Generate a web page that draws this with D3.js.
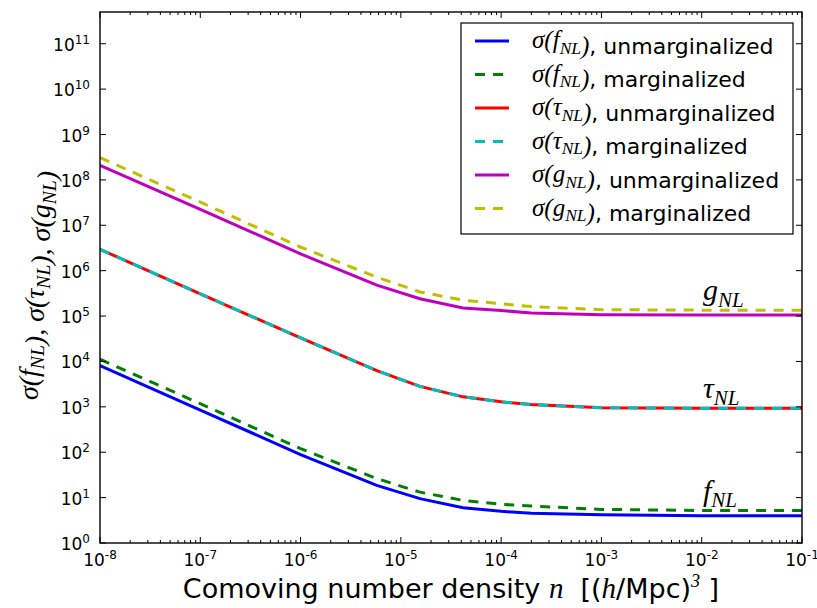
<!DOCTYPE html>
<html>
<head>
<meta charset="utf-8">
<script src="https://cdn.jsdelivr.net/npm/d3@7"></script>
<style>
  body { margin: 0; background: #fff; }
  svg { display: block; }
  text { font-family: "DejaVu Sans", sans-serif; fill: #000; }
  .math { font-family: "Liberation Serif", "DejaVu Serif", serif; font-style: italic; }
</style>
</head>
<body>
<div id="chart"></div>
<script>
// comoving number density n [(h/Mpc)^3]
const density = [1e-8, 1e-7, 1e-6, 5.75e-6, 1.55e-5, 4.17e-5, 1e-4, 2e-4, 1e-3, 1e-2, 1e-1];

const fnlUnmarg = [8100, 850, 89, 18.6, 9.5, 6.0, 5.0, 4.5, 4.2, 4.0, 4.0];
const fnlMarg   = [11200, 1170, 120, 26.3, 13.2, 8.7, 7.1, 6.5, 5.5, 5.2, 5.2];
const tnlUnmarg = [2.95e6, 3.1e5, 3.3e4, 6300, 2820, 1660, 1290, 1120, 955, 933, 930];
const tnlMarg   = [2.95e6, 3.1e5, 3.3e4, 6300, 2820, 1660, 1290, 1120, 955, 933, 930];
const gnlUnmarg = [2.09e8, 2.24e7, 2.34e6, 4.8e5, 2.4e5, 1.51e5, 1.32e5, 1.17e5, 1.07e5, 1.05e5, 1.05e5];
const gnlMarg   = [3.09e8, 3.24e7, 3.31e6, 7.2e5, 3.4e5, 2.24e5, 1.86e5, 1.62e5, 1.38e5, 1.35e5, 1.35e5];

const xTicks = [-8, -7, -6, -5, -4, -3, -2, -1];
const yTicks = [0, 1, 2, 3, 4, 5, 6, 7, 8, 9, 10, 11];

const series = [
  {param: 'f', label: 'unmarginalized', values: fnlUnmarg, color: '#0000ff', dash: null},
  {param: 'f', label: 'marginalized', values: fnlMarg, color: '#008000', dash: '10,8'},
  {param: 'τ', label: 'unmarginalized', values: tnlUnmarg, color: '#ff0000', dash: null},
  {param: 'τ', label: 'marginalized', values: tnlMarg, color: '#00bfbf', dash: '10,8'},
  {param: 'g', label: 'unmarginalized', values: gnlUnmarg, color: '#bf00bf', dash: null},
  {param: 'g', label: 'marginalized', values: gnlMarg, color: '#bfbf00', dash: '10,8'}
];

const width = 817;
const height = 608;
const margin = {top: 12, right: 15, bottom: 65, left: 100};
const iw = width - margin.left - margin.right;
const ih = height - margin.top - margin.bottom;

const svg = d3.select('#chart')
  .append('svg')
  .attr('width', width)
  .attr('height', height);

const x = d3.scaleLog().domain([1e-8, 1e-1]).range([0, iw]);
const y = d3.scaleLog().domain([1, 5e11]).range([ih, 0]);

const g = svg.append('g')
  .attr('transform', `translate(${margin.left},${margin.top})`);

g.append('defs').append('clipPath').attr('id', 'clip')
  .append('rect').attr('width', iw).attr('height', ih);

// math helper: base letter with italic NL subscript
function mathParam(sel, p, size) {
  sel.append('tspan').attr('class', 'math').attr('font-size', size).text(p);
  sel.append('tspan').attr('class', 'math').attr('font-size', size * 0.7)
    .attr('dy', size * 0.22).text('NL');
  sel.append('tspan').attr('font-size', size).attr('dy', -size * 0.22).text('');
}

function sigmaOf(sel, p, size) {
  sel.append('tspan').attr('class', 'math').attr('font-size', size).text('σ');
  sel.append('tspan').attr('class', 'math').attr('font-style', 'normal').attr('font-size', size).text('(');
  mathParam(sel, p, size);
  sel.append('tspan').attr('class', 'math').attr('font-style', 'normal').attr('font-size', size).text(')');
}

// lines
const line = d3.line()
  .x((d, i) => x(density[i]))
  .y(d => y(d));

g.append('g').attr('clip-path', 'url(#clip)')
  .selectAll('path')
  .data(series)
  .join('path')
    .attr('fill', 'none')
    .attr('stroke', d => d.color)
    .attr('stroke-width', 3)
    .attr('stroke-dasharray', d => d.dash)
    .attr('d', d => line(d.values));

// ticks (inward, all four sides)
const majorX = xTicks.map(e => Math.pow(10, e));
const minorX = [];
xTicks.slice(0, -1).forEach(e => {
  for (let k = 2; k <= 9; k++) minorX.push(k * Math.pow(10, e));
});

const ticks = g.append('g').attr('stroke', '#000').attr('stroke-width', 1);
[0, ih].forEach(y0 => {
  const dir = y0 === 0 ? 1 : -1;
  ticks.selectAll(null).data(majorX).join('line')
    .attr('x1', d => x(d)).attr('x2', d => x(d))
    .attr('y1', y0).attr('y2', y0 + dir * 6);
  ticks.selectAll(null).data(minorX).join('line')
    .attr('x1', d => x(d)).attr('x2', d => x(d))
    .attr('y1', y0).attr('y2', y0 + dir * 3);
});
ticks.selectAll(null).data(yTicks).join('line')
  .attr('x1', 0).attr('x2', 6)
  .attr('y1', d => y(Math.pow(10, d))).attr('y2', d => y(Math.pow(10, d)));
ticks.selectAll(null).data(yTicks).join('line')
  .attr('x1', iw).attr('x2', iw - 6)
  .attr('y1', d => y(Math.pow(10, d))).attr('y2', d => y(Math.pow(10, d)));

// frame
g.append('rect')
  .attr('width', iw).attr('height', ih)
  .attr('fill', 'none').attr('stroke', '#000').attr('stroke-width', 1.4);

// tick labels
g.append('g').selectAll('text').data(xTicks).join('text')
  .attr('x', d => x(Math.pow(10, d)))
  .attr('y', ih + 23)
  .attr('text-anchor', 'middle')
  .attr('font-size', 17)
  .each(function(d) {
    const t = d3.select(this);
    t.append('tspan').text('10');
    t.append('tspan').attr('font-size', 12).attr('dy', -7).text('-' + Math.abs(d));
  });

g.append('g').selectAll('text').data(yTicks).join('text')
  .attr('x', -10)
  .attr('y', d => y(Math.pow(10, d)) + 7)
  .attr('text-anchor', 'end')
  .attr('font-size', 17)
  .each(function(d) {
    const t = d3.select(this);
    t.append('tspan').text('10');
    t.append('tspan').attr('font-size', 12).attr('dy', -7).text(d);
  });

// x axis label
const xl = svg.append('text')
  .attr('x', 451).attr('y', 598)
  .attr('text-anchor', 'middle')
  .attr('font-size', 27);
xl.append('tspan').text('Comoving number density ');
xl.append('tspan').attr('class', 'math').attr('font-size', 29).text('n');
xl.append('tspan').text('\u00a0\u00a0[(');
xl.append('tspan').attr('class', 'math').attr('font-size', 29).text('h');
xl.append('tspan').text('/Mpc)');
xl.append('tspan').attr('class', 'math').attr('font-style', 'normal').attr('font-size', 18).attr('dy', -11).text('3');
xl.append('tspan').attr('dy', 11).text('\u00a0]');

// y axis label
const yl = svg.append('text')
  .attr('transform', `translate(38,${margin.top + ih / 2 + 8}) rotate(-90)`)
  .attr('text-anchor', 'middle');
sigmaOf(yl, 'f', 28);
yl.append('tspan').attr('class', 'math').attr('font-style', 'normal').attr('font-size', 28).text(', ');
sigmaOf(yl, 'τ', 28);
yl.append('tspan').attr('class', 'math').attr('font-style', 'normal').attr('font-size', 28).text(', ');
sigmaOf(yl, 'g', 28);

// curve annotations
const notes = [
  {p: 'g', v: gnlMarg[gnlMarg.length - 1]},
  {p: 'τ', v: tnlMarg[tnlMarg.length - 1]},
  {p: 'f', v: fnlMarg[fnlMarg.length - 1]}
];
g.selectAll('.note').data(notes).join('text')
  .attr('class', 'note')
  .attr('x', 603)
  .attr('y', d => y(d.v) - 10)
  .each(function(d) { mathParam(d3.select(this), d.p, 30); });

// legend
const legend = g.append('g').attr('transform', `translate(${461 - margin.left},${23 - margin.top})`);
legend.append('rect')
  .attr('width', 332).attr('height', 211)
  .attr('fill', '#fff').attr('stroke', '#000').attr('stroke-width', 1.2);

const rows = legend.selectAll('.row').data(series).join('g')
  .attr('class', 'row')
  .attr('transform', (d, i) => `translate(0,${18 + i * 33.5})`);
rows.append('line')
  .attr('x1', 14).attr('x2', 48)
  .attr('stroke', d => d.color)
  .attr('stroke-width', 3)
  .attr('stroke-dasharray', d => d.dash);
rows.append('text')
  .attr('x', 71).attr('y', 7)
  .attr('font-size', 22)
  .each(function(d) {
    const t = d3.select(this);
    sigmaOf(t, d.param, 25);
    t.append('tspan').attr('font-size', 22).text(', ' + d.label);
  });
</script>
</body>
</html>
